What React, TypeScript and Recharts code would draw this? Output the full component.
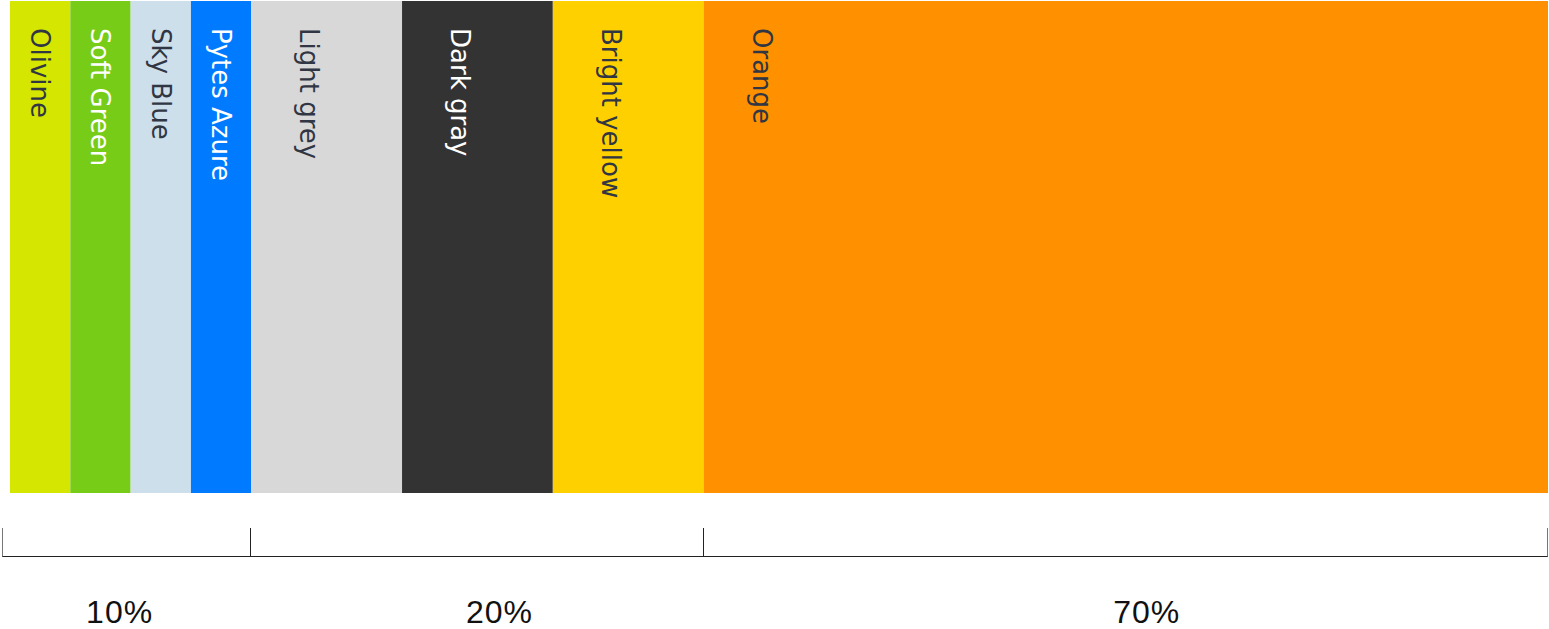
import { BarChart, Bar, XAxis, YAxis, LabelList } from "recharts";

const BAND_NAMES = [
  "Olivine",
  "Soft Green",
  "Sky Blue",
  "Pytes Azure",
  "Light grey",
  "Dark gray",
  "Bright yellow",
  "Orange",
];
const BAND_WIDTHS = [1, 1, 1, 1, 2.5, 2.5, 2.5, 14];
const BAND_COLORS = [
  "#d5e600",
  "#77cc17",
  "#cddfeb",
  "#007bff",
  "#d8d8d8",
  "#333333",
  "#ffd000",
  "#ff9000",
];
const BAND_TEXT = [
  "#303643",
  "#ffffff",
  "#303643",
  "#ffffff",
  "#303643",
  "#ffffff",
  "#303643",
  "#303643",
];

// group brackets under the bands
const GROUP_SIZES = [4, 3, 1];
const GROUP_LABELS = ["10%", "20%", "70%"];
const GROUP_LABEL_SHIFT = [-11, 22, 21];

const TOTAL = BAND_WIDTHS.reduce((a, b) => a + b, 0);
const PAD_LEFT = 8;
const BAR_AXIS_H = 63.5;

const row: Record<string, string | number> = { name: "palette" };
BAND_NAMES.forEach((n, i) => {
  row[n] = BAND_WIDTHS[i];
});
const data = [row];

// cumulative boundaries + midpoints for each group
const groupEdges: number[] = [0];
let bandIdx = 0;
GROUP_SIZES.forEach((size) => {
  let sum = 0;
  for (let k = 0; k < size; k++) sum += BAND_WIDTHS[bandIdx++];
  groupEdges.push(groupEdges[groupEdges.length - 1] + sum);
});
const groupMids = GROUP_LABELS.map((_, i) => (groupEdges[i] + groupEdges[i + 1]) / 2);
const axisTicks = [...groupEdges, ...groupMids];

function bandLabel(name: string, color: string) {
  return (props: any) => {
    const { x, y, width } = props;
    const cx = x + Math.min(width / 2, 58);
    const cy = y + 27;
    return (
      <text
        x={cx}
        y={cy}
        transform={`rotate(90, ${cx}, ${cy})`}
        fill={color}
        fontSize={26}
        fontFamily="DejaVu Sans"
        textAnchor="start"
        dominantBaseline="central"
      >
        {name}
      </text>
    );
  };
}

// edges -> bracket ticks, midpoints -> percent labels
function GroupTick(props: any) {
  const { x, y, payload } = props;
  const edgeIdx = groupEdges.indexOf(payload.value);
  if (edgeIdx >= 0) {
    const lx = edgeIdx === 0 ? x - PAD_LEFT + 0.5 : Math.round(x) - 0.5;
    return (
      <line
        x1={lx}
        x2={lx}
        y1={y + 35}
        y2={y + BAR_AXIS_H}
        stroke={edgeIdx === 0 || edgeIdx === groupEdges.length - 1 ? "#777" : "#222"}
        strokeWidth={1}
      />
    );
  }
  const i = groupMids.indexOf(payload.value);
  return (
    <text
      x={x + GROUP_LABEL_SHIFT[i]}
      y={y + 130}
      textAnchor="middle"
      fill="#111"
      fontSize={32}
      fontFamily="Liberation Sans"
      letterSpacing={1}
    >
      {GROUP_LABELS[i]}
    </text>
  );
}

export default function App() {
  return (
    <div style={{ position: "absolute", left: 0, top: 0, background: "#fff" }}>
      <BarChart
        width={1549}
        height={629}
        data={data}
        layout="vertical"
        barCategoryGap={0}
        margin={{ top: 1, right: 1, left: 2, bottom: 0 }}
      >
        <YAxis type="category" dataKey="name" hide />
        <XAxis
          xAxisId="bars"
          type="number"
          domain={[0, TOTAL]}
          padding={{ left: PAD_LEFT, right: 0 }}
          ticks={axisTicks}
          interval={0}
          height={BAR_AXIS_H}
          axisLine={false}
          tickLine={false}
          tickSize={0}
          tickMargin={0}
          tick={<GroupTick />}
        />
        <XAxis
          xAxisId="bracket"
          type="number"
          domain={[0, TOTAL]}
          height={136 - BAR_AXIS_H}
          axisLine={{ stroke: "#222" }}
          tickLine={false}
          tick={false}
        />
        {BAND_NAMES.map((n, i) => (
          <Bar
            key={n}
            dataKey={n}
            xAxisId="bars"
            stackId="palette"
            fill={BAND_COLORS[i]}
            isAnimationActive={false}
          >
            <LabelList dataKey={n} content={bandLabel(n, BAND_TEXT[i])} />
          </Bar>
        ))}
      </BarChart>
    </div>
  );
}
